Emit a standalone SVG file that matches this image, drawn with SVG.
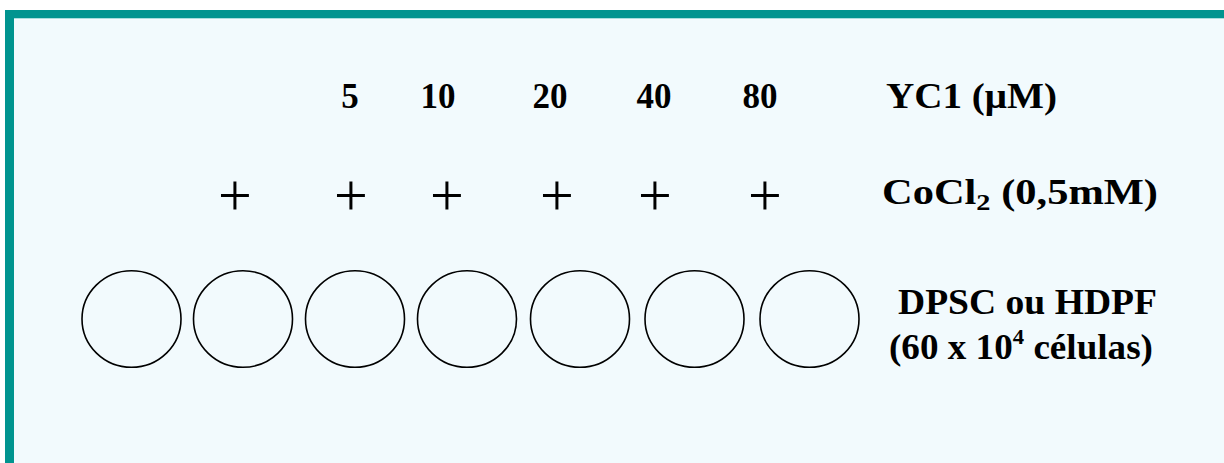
<svg xmlns="http://www.w3.org/2000/svg" width="1224" height="463" viewBox="0 0 1224 463">
<style>
.lbl{font-family:"Liberation Serif","Times New Roman",serif;font-weight:bold;font-size:36px;fill:#000}
.num{font-family:"Liberation Serif","Times New Roman",serif;font-weight:bold;font-size:35px;fill:#000;text-anchor:middle}
.plus{font-family:"Liberation Serif","Times New Roman",serif;font-size:60px;fill:#000;text-anchor:middle}
.well{fill:none;stroke:#000;stroke-width:1.6}
</style>
<rect x="0" y="0" width="1224" height="463" fill="#ffffff"/>
<rect x="5" y="10" width="1219" height="453" fill="#00948F"/>
<rect x="14" y="18" width="1210" height="445" fill="#F2FAFD"/>
<line x1="14" y1="18.5" x2="1224" y2="18.5" stroke="#A8DEDD" stroke-width="1"/>
<g id="yc1-row">
<text class="num" x="350" y="108">5</text>
<text class="num" x="438" y="108">10</text>
<text class="num" x="550" y="108">20</text>
<text class="num" x="654" y="108">40</text>
<text class="num" x="760" y="108">80</text>
<text id="yc1-label" class="lbl" x="886" y="108" textLength="171" lengthAdjust="spacingAndGlyphs">YC1 (μM)</text>
</g>
<g id="cocl2-row">
<text class="plus" x="235" y="215">+</text>
<text class="plus" x="351" y="215">+</text>
<text class="plus" x="447" y="215">+</text>
<text class="plus" x="557" y="215">+</text>
<text class="plus" x="655" y="215">+</text>
<text class="plus" x="765" y="215">+</text>
<text id="cocl2-label" class="lbl" x="882" y="204" textLength="276" lengthAdjust="spacingAndGlyphs">CoCl<tspan font-size="24" dy="6">2</tspan><tspan dy="-6"> (0,5mM)</tspan></text>
</g>
<g id="wells">
<ellipse id="well1" class="well" cx="131.5" cy="319" rx="49.5" ry="48.3"/>
<ellipse id="well2" class="well" cx="243" cy="319" rx="49.5" ry="48.3"/>
<ellipse id="well3" class="well" cx="355" cy="319" rx="49.5" ry="48.3"/>
<ellipse id="well4" class="well" cx="467" cy="319" rx="49.5" ry="48.3"/>
<ellipse id="well5" class="well" cx="580" cy="319" rx="49.5" ry="48.3"/>
<ellipse id="well6" class="well" cx="694.5" cy="319" rx="49.5" ry="48.3"/>
<ellipse id="well7" class="well" cx="809.5" cy="319" rx="49.5" ry="48.3"/>
</g>
<g id="cells-label">
<text class="lbl" x="898" y="314" textLength="259" lengthAdjust="spacingAndGlyphs">DPSC ou HDPF</text>
<text class="lbl" x="889" y="359" textLength="264" lengthAdjust="spacingAndGlyphs">(60 x 10<tspan font-size="22" dy="-15">4</tspan><tspan dy="15"> células)</tspan></text>
</g>
</svg>
